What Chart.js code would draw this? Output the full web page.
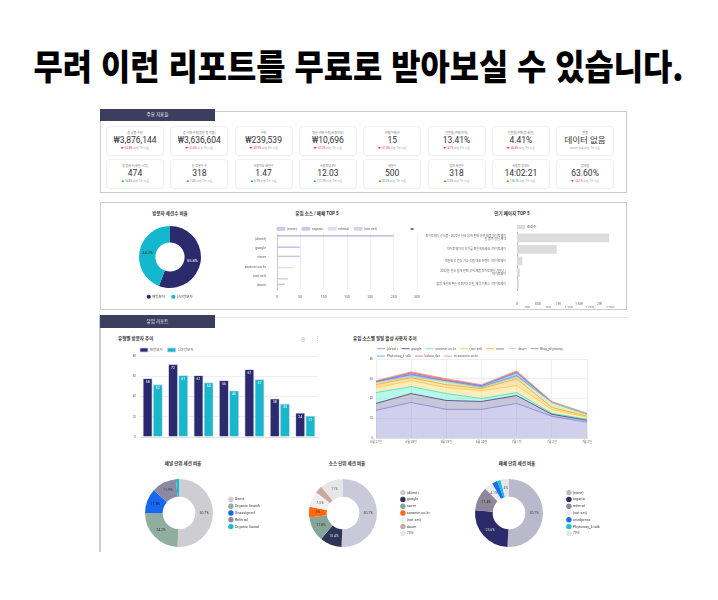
<!DOCTYPE html>
<html lang="ko">
<head>
<meta charset="utf-8">
<script src="https://cdn.jsdelivr.net/npm/chart.js@4.4.1/dist/chart.umd.min.js"></script>
<style>
  html, body { margin: 0; padding: 0; background: #fff; }
  body { width: 718px; height: 600px; position: relative; overflow: hidden;
         font-family: Roboto, "Noto Sans CJK KR", sans-serif; color: #333; }
  #headline { position: absolute; left: 0; top: 40px; width: 718px; text-align: center; white-space: nowrap;
              font-family: "Noto Sans CJK KR", sans-serif; font-weight: 900; font-size: 35px; line-height: 50px; color: #000; }
  #headline span { display: inline-block; transform-origin: center; }
  .frame { position: absolute; border: 1.5px solid #c9c9e4; box-sizing: border-box; }
  .tab { position: absolute; background: #3c3e5f; color: #fff; font-size: 4.5px; text-align: center; }
  .card { position: absolute; width: 56px; height: 28px; background: #fff; border-radius: 3px;
          box-shadow: 0 0 2px rgba(0,0,0,0.2); text-align: center; }
  .card .lbl { font-size: 3px; color: #777; margin-top: 4px; line-height: 4px; }
  .card .val { font-size: 8.5px; color: #333; line-height: 11px; }
  .card .chg { font-size: 2.8px; color: #999; line-height: 4px; }
  .ttl { position: absolute; font-size: 4.5px; font-weight: 700; color: #333; white-space: nowrap; transform: translate(-50%, -50%); }
  .ttl.left { transform: translate(0, -50%); }
  .icon { position: absolute; font-size: 5px; color: #999; transform: translate(-50%, -50%); }
  .box { position: absolute; }
</style>
</head>
<body>
<div id="headline"><span>무려 이런 리포트를 무료로 받아보실 수 있습니다.</span></div>

<div class="frame" style="left:100px;top:111px;width:527px;height:82px"></div>
<div class="tab" style="left:100px;top:109px;width:115px;height:12px;line-height:12px">주요 지표들</div>

<div class="frame" style="left:100px;top:202px;width:527px;height:108px"></div>

<div style="position:absolute;left:99px;top:316px;width:1.5px;height:236px;background:#c9c9e4"></div>
<div style="position:absolute;left:215px;top:317px;width:413px;height:1px;background:#e6e6ea"></div>
<div class="tab" style="left:100px;top:315px;width:115px;height:13px;line-height:13px">유입 리포트</div>

<script>
// KPI cards
const kpiLabels = [
  ['총 상품 수익', '총 구매 수익(할인 등 적용)', '수익', '평균 구매 수익(사용자당)', '구매(거래)수', '전환율(구매/유저)', '전환율(구매/총 세션)', '환불'],
  ['총 접속수(세션 시작)', '순 방문자 수', '사용자당 세션수', '사용자당 PV', '세션수', '참여 세션수', '사용자 참여도', '참여율']
];
const kpiValues = [
  ['₩3,876,144', '₩3,636,604', '₩239,539', '₩10,696', '15', '13.41%', '4.41%', '데이터 없음'],
  ['474', '318', '1.47', '12.03', '500', '318', '14:02:21', '63.60%']
];
const kpiChanges = [
  [-50.8, -51.6, -49.9, -57.2, -37.5, -4.1, -45.6, null],
  [14.8, 7.4, 6.9, 121.7, 30.2, 3.2, 118.2, -14.1]
];

// 방문자 세션수 비율
const visitLabels = ['재방문자', '신규방문자'];
const visitShare = [55.8, 44.2];

// 유입 소스 / 매체 TOP 5
const srcLabels = ['(direct)', 'google', 'naver', 'saramin.co.kr', '(not set)', 'daum'];
const mediumNames = ['(none)', 'organic', 'referral', '(not set)'];
const srcNone = [250, 0, 0, 0, 0, 0];
const srcOrganic = [0, 49, 49, 0, 0, 17];
const srcReferral = [0, 0, 0, 34, 0, 0];
const srcNotSet = [0, 0, 0, 0, 24, 0];

// 인기 페이지 TOP 5
const pageLabels = [
  ['파이토웨이 공식몰 - 2022년 한국 올해 판매 상위 제품 파이토웨이', '전 품목 할인 제약'],
  '파이토웨이의 후기를 확인해보세요 | 파이토웨이',
  '대한민국 건강 기능 식품 대표 브랜드 | 파이토웨이',
  ['2022년 한국 올해 판매 상위 제품 파이토웨이 기획스 |', '파이토웨이'],
  '혈행 개선에 좋은 오메가3 추천, 제약 기획스 | 파이토웨이'
];
const pageViews = [2230, 960, 130, 70, 50];
const pageTicks = ['0', '250', '500', '750', '1천', '1,250', '1.5천', '1,750', '2천', '2,250'];

// 유형별 방문자 추이
const dayLabels = ['2022. 6. 27.', '2022. 6. 28.', '2022. 6. 29.', '2022. 6. 30.', '2022. 7. 1.', '2022. 7. 2.', '2022. 7. 3.'];
const returningVisitors = [58, 72, 61, 56, 67, 38, 24];
const newVisitors = [52, 61, 54, 46, 57, 33, 21];

// 유입 소스별 일일 활성 사용자 추이
const dateLabels = ['6월 27일', '6월 28일', '6월 29일', '6월 30일', '7월 1일', '7월 2일', '7월 3일'];
const areaNames = ['(direct)', 'google', 'saramin.co.kr', '(not set)', 'naver', 'daum', 'Blog_phytoway', 'Phytoway_k talk', 'kakao_fbc', 'm.saramin.co.kr'];
const usersDirect = [28, 36, 29, 29, 35, 22, 16];
const usersGoogle = [7, 9, 9, 8, 8, 2, 2];
const usersSaramin = [11, 7, 7, 3, 3, 1, 1];
const usersNotSet = [5, 6, 6, 8, 7, 4, 2];
const usersNaver = [3, 3, 3, 2, 7, 2, 1];
const usersDaum = [2, 1, 3, 1, 2, 5, 2];
const usersBlog = [1, 2, 1, 1, 1, 0, 0];
const usersKakaoTalk = [0, 1, 0, 1, 3, 0, 0];
const usersKakaoFbc = [0, 1, 1, 0, 1, 0, 0];
const usersMSaramin = [1, 1, 1, 1, 1, 1, 1];

// 채널 / 소스 / 매체 단위 세션 비율
const channelLabels = ['Direct', 'Organic Search', 'Unassigned', 'Referral', 'Organic Social'];
const channelShare = [50.7, 24.2, 11.8, 11.9, 1.4];
const sourceLabels = ['(direct)', 'google', 'naver', 'saramin.co.kr', '(not set)', 'daum', '기타'];
const sourceShare = [50.7, 10.4, 11.8, 5.0, 7.5, 3.6, 11.0];
const mediumLabels = ['(none)', 'organic', 'referral', '(not set)', 'wordpress', 'Phytoway_k talk', '기타'];
const mediumShare = [50.7, 25.6, 11.4, 4.1, 2.6, 1.6, 4.0];

// headline width
const hl = document.querySelector('#headline span');
hl.style.transform = 'scaleX(' + (650 / hl.getBoundingClientRect().width) + ')';

// cards
kpiLabels.forEach((row, r) => {
  row.forEach((label, i) => {
    const c = document.createElement('div');
    c.className = 'card';
    c.style.left = (107 + i * 64.3) + 'px';
    c.style.top = (r ? 160 : 127) + 'px';
    const ch = kpiChanges[r][i];
    let chg = '<span>데이터 없음 이전 7일 기준</span>';
    if (ch !== null) {
      const col = ch < 0 ? '#e53935' : '#43a047';
      chg = '<span style="color:' + col + '">' + (ch < 0 ? '▼ ' : '▲ ') + ch + '%</span> 이전 7일 기준';
    }
    c.innerHTML = '<div class="lbl">' + label + '</div><div class="val">' + kpiValues[r][i] + '</div><div class="chg">' + chg + '</div>';
    document.body.appendChild(c);
  });
});

function title(text, x, y, left) {
  const d = document.createElement('div');
  d.className = left ? 'ttl left' : 'ttl';
  d.style.left = x + 'px';
  d.style.top = y + 'px';
  d.textContent = text;
  document.body.appendChild(d);
}
function mk(id, x, y, w, h) {
  const d = document.createElement('div');
  d.className = 'box';
  d.style.cssText = 'left:' + x + 'px;top:' + y + 'px;width:' + w + 'px;height:' + h + 'px';
  const c = document.createElement('canvas');
  c.id = id;
  d.appendChild(c);
  document.body.appendChild(d);
  return c;
}

title('방문자 세션수 비율', 170, 213);
title('유입 소스 / 매체 TOP 5', 317, 213);
title('인기 페이지 TOP 5', 512, 213);
title('유형별 방문자 추이', 118, 338, true);
title('유입 소스별 일일 활성 사용자 추이', 353, 338, true);
title('채널 단위 세션 비율', 183, 463);
title('소스 단위 세션 비율', 347, 463);
title('매체 단위 세션 비율', 517, 463);

const pager = document.createElement('div');
pager.className = 'icon';
pager.style.cssText = 'left:412px;top:229px;font-size:3.5px;color:#333';
pager.textContent = '◂ ▸';
document.body.appendChild(pager);
[['⊕', 303], ['⋮', 317]].forEach(([t, x]) => {
  const d = document.createElement('div');
  d.className = 'icon';
  d.style.left = x + 'px';
  d.style.top = '338px';
  d.textContent = t;
  document.body.appendChild(d);
});

Chart.defaults.font.family = 'Roboto, "Noto Sans CJK KR", sans-serif';
Chart.defaults.font.size = 4;
Chart.defaults.color = '#666';
Chart.defaults.animation = false;
Chart.defaults.maintainAspectRatio = false;
Chart.defaults.plugins.tooltip.enabled = false;

// fixes legend size / start x (page px) so the boxes line up with the picture
const legendBox = {
  id: 'legendBox',
  beforeUpdate(chart, args, opts) {
    const lg = chart.legend;
    if (!lg || lg._fixed) return;
    const fit = lg.fit;
    lg.fit = function () {
      fit.call(this);
      if (opts.width) this.width = opts.width;
      if (opts.height) this.height = opts.height;
    };
    lg._fixed = true;
  },
  afterLayout(chart, args, opts) {
    if (opts.x == null) return;
    const lg = chart.legend;
    const x0 = chart.canvas.parentNode.offsetLeft;
    const dx = opts.x - x0 - lg.options.labels.padding - lg.left;
    lg.left += dx;
    lg.right += dx;
  }
};

// percentage text on doughnut slices
const pctLabels = {
  id: 'pctLabels',
  afterDatasetsDraw(chart, args, opts) {
    const ctx = chart.ctx;
    const ds = chart.data.datasets[0];
    chart.getDatasetMeta(0).data.forEach((arc, i) => {
      const v = ds.data[i];
      if (v < (opts.min || 3)) return;
      const p = arc.tooltipPosition();
      ctx.save();
      ctx.font = (opts.size || 3.5) + 'px Roboto';
      ctx.fillStyle = opts.colors[i];
      ctx.textAlign = 'center';
      ctx.textBaseline = 'middle';
      ctx.fillText(v + '%', p.x, p.y);
      ctx.restore();
    });
  }
};

// value text inside the top of each bar
const barValues = {
  id: 'barValues',
  afterDatasetsDraw(chart) {
    const ctx = chart.ctx;
    ctx.save();
    ctx.font = '3.5px Roboto';
    ctx.fillStyle = '#fff';
    ctx.textAlign = 'center';
    ctx.textBaseline = 'middle';
    chart.data.datasets.forEach((ds, di) => {
      chart.getDatasetMeta(di).data.forEach((bar, i) => {
        ctx.fillText(ds.data[i], bar.x, bar.y + 4);
      });
    });
    ctx.restore();
  }
};

new Chart(mk('visitDonut', 130, 226, 80, 84), {
  type: 'doughnut',
  data: {
    labels: visitLabels,
    datasets: [{ data: visitShare, backgroundColor: ['#2a2a6c', '#14b8cc'], borderWidth: 0 }]
  },
  options: {
    cutout: '47%',
    plugins: {
      legend: { position: 'bottom', labels: { usePointStyle: true, pointStyle: 'circle', boxWidth: 3, boxHeight: 3, padding: 7, font: { size: 3.5 }, color: '#444' } },
      legendBox: { height: 22 },
      pctLabels: { colors: ['#fff', '#333'], size: 4 }
    }
  },
  plugins: [legendBox, pctLabels]
});

new Chart(mk('srcBar', 209, 222, 216, 83), {
  type: 'bar',
  data: {
    labels: srcLabels,
    datasets: [
      { label: mediumNames[0], data: srcNone, backgroundColor: 'rgba(154,154,200,0.45)', borderColor: '#a0a0d0', borderWidth: 0.5 },
      { label: mediumNames[1], data: srcOrganic, backgroundColor: 'rgba(90,90,200,0.35)', borderColor: '#b4b4e8', borderWidth: 0.5 },
      { label: mediumNames[2], data: srcReferral, backgroundColor: 'rgba(200,200,240,0.6)', borderColor: '#d0d0f2', borderWidth: 0.5 },
      { label: mediumNames[3], data: srcNotSet, backgroundColor: 'rgba(170,170,228,0.5)', borderColor: '#c4c4ee', borderWidth: 0.5 }
    ]
  },
  options: {
    indexAxis: 'y',
    layout: { padding: { right: 8 } },
    scales: {
      x: { min: 0, max: 300, ticks: { stepSize: 50, font: { size: 3.5 }, padding: 5 }, grid: { color: '#eee', drawTicks: false }, border: { display: false }, afterFit: s => { s.height = 15; } },
      y: { ticks: { font: { size: 3.5 }, autoSkip: false }, grid: { display: false }, border: { color: '#ccc' }, afterFit: s => { s.width = 68; } }
    },
    plugins: {
      legend: { align: 'start', labels: { boxWidth: 8, boxHeight: 3, padding: 5, font: { size: 3.5 } } },
      legendBox: { height: 12, x: 277 }
    }
  },
  plugins: [legendBox]
});

new Chart(mk('pageBar', 420, 222, 207, 86), {
  type: 'bar',
  data: {
    labels: pageLabels,
    datasets: [{ label: '조회수', data: pageViews, backgroundColor: '#dcdcdc' }]
  },
  options: {
    indexAxis: 'y',
    layout: { padding: { right: 17 } },
    datasets: { bar: { barPercentage: 0.95, categoryPercentage: 0.8 } },
    scales: {
      x: { min: 0, max: 2250, ticks: { stepSize: 250, autoSkip: false, maxRotation: 0, padding: 4, font: { size: 3.5 }, callback: (v, i) => i % 2 ? ['', pageTicks[i]] : pageTicks[i] }, grid: { display: false }, border: { display: false }, afterFit: s => { s.height = 18; } },
      y: { ticks: { font: { size: 3 }, autoSkip: false, padding: 3 }, grid: { display: false }, border: { color: '#bbb' }, afterFit: s => { s.width = 97; } }
    },
    plugins: {
      legend: { align: 'start', labels: { boxWidth: 8, boxHeight: 4, padding: 3, font: { size: 3.5 } } },
      legendBox: { height: 10, x: 517 }
    }
  },
  plugins: [legendBox]
});

new Chart(mk('typeBar', 118, 343, 207, 103), {
  type: 'bar',
  data: {
    labels: dayLabels,
    datasets: [
      { label: '재방문자', data: returningVisitors, backgroundColor: '#2b2a6e', borderColor: '#c9c9ef', borderWidth: 0.8 },
      { label: '신규방문자', data: newVisitors, backgroundColor: '#18b7cb', borderColor: '#c9c9ef', borderWidth: 0.8 }
    ]
  },
  options: {
    layout: { padding: { right: 7 } },
    datasets: { bar: { categoryPercentage: 0.8, barPercentage: 0.97 } },
    scales: {
      x: { grid: { display: false }, ticks: { font: { size: 3 }, maxRotation: 0, autoSkip: false, padding: 2 }, border: { color: '#ddd' }, afterFit: s => { s.height = 9; } },
      y: { min: 0, max: 80, ticks: { stepSize: 20, font: { size: 3 }, padding: 4 }, grid: { color: '#eee', drawTicks: false }, border: { display: false }, afterFit: s => { s.width = 22; } }
    },
    plugins: {
      legend: { align: 'start', labels: { boxWidth: 8, boxHeight: 4, padding: 5, font: { size: 3.5 } } },
      legendBox: { height: 13, x: 140 }
    }
  },
  plugins: [legendBox, barValues]
});

const areaSeries = [usersDirect, usersGoogle, usersSaramin, usersNotSet, usersNaver, usersDaum, usersBlog, usersKakaoTalk, usersKakaoFbc, usersMSaramin];
const lineColors = ['#7d7dd8', '#3b3b7c', '#3fe0c0', '#ffc93c', '#ffa41c', '#a6d88c', '#8a7ae6', '#36a2f0', '#f0587a', '#ff8a72'];
const fillColors = ['rgba(170,170,222,0.55)', 'rgba(130,130,170,0.45)', 'rgba(100,240,205,0.45)', 'rgba(255,220,120,0.5)', 'rgba(255,190,90,0.45)', 'rgba(190,226,170,0.6)', 'rgba(150,140,235,0.5)', 'rgba(80,170,245,0.5)', 'rgba(240,110,140,0.5)', 'rgba(255,150,130,0.5)'];

new Chart(mk('srcArea', 365, 343, 255, 103), {
  type: 'line',
  data: {
    labels: dateLabels,
    datasets: areaNames.map((n, k) => ({
      label: n, data: areaSeries[k], borderColor: lineColors[k], backgroundColor: fillColors[k],
      borderWidth: 0.8, pointRadius: 0, fill: k ? '-1' : 'origin'
    }))
  },
  options: {
    layout: { padding: { right: 33 } },
    scales: {
      x: { offset: false, grid: { color: '#eee', drawTicks: false }, ticks: { font: { size: 3 }, padding: 2, maxRotation: 0, autoSkip: false }, border: { color: '#ddd' }, afterFit: s => { s.height = 8; } },
      y: { stacked: true, min: 0, max: 80, ticks: { stepSize: 20, font: { size: 3 }, padding: 3 }, grid: { color: '#eee', drawTicks: false }, border: { display: false }, afterFit: s => { s.width = 11; } }
    },
    plugins: {
      legend: { align: 'start', labels: { usePointStyle: true, pointStyle: 'line', pointStyleWidth: 8, boxHeight: 3, padding: 4, font: { size: 3.4 } } },
      legendBox: { height: 16, x: 377 }
    }
  },
  plugins: [legendBox]
});

function donut(id, x, w, labels, values, colors, textColors) {
  new Chart(mk(id, x, 479, w, 68), {
    type: 'doughnut',
    data: { labels: labels, datasets: [{ data: values, backgroundColor: colors, borderWidth: 0 }] },
    options: {
      cutout: '48%',
      plugins: {
        legend: { position: 'right', labels: { usePointStyle: true, pointStyle: 'circle', boxWidth: 4, boxHeight: 4, padding: 3, font: { size: 3.8 }, color: '#444' } },
        legendBox: { width: 60 },
        pctLabels: { colors: textColors, size: 3.5, min: 4 }
      }
    },
    plugins: [legendBox, pctLabels]
  });
}

donut('channelDonut', 132, 154, channelLabels, channelShare,
  ['#cdcdd2', '#8fae9f', '#1668f0', '#8c8aa3', '#17bcd4'],
  ['#444', '#333', '#222', '#333', '#333']);
donut('sourceDonut', 288, 170, sourceLabels, sourceShare,
  ['#c9c9d9', '#2e3358', '#85a597', '#ff6a10', '#efefef', '#c9a8a0', '#e6e6e8'],
  ['#444', '#ddd', '#333', '#333', '#666', '#444', '#666']);
donut('mediumDonut', 454, 170, mediumLabels, mediumShare,
  ['#b9b9cc', '#2b2b6b', '#8e8699', '#ececec', '#1a6cf0', '#12c0d8', '#e6e6e6'],
  ['#444', '#ddd', '#333', '#666', '#fff', '#333', '#666']);
</script>
</body>
</html>
